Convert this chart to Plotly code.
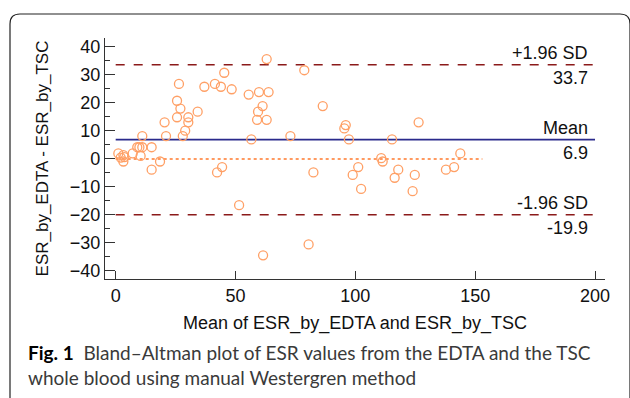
import plotly.graph_objects as go

# Data: mean of the two methods (x) and difference EDTA - TSC (y)
mean_vals = [63.0, 45.3, 26.4, 37.0, 41.4, 43.9, 48.4, 55.5, 59.8, 63.8,
             25.6, 27.0, 34.2, 61.3, 59.4, 25.6, 30.3, 30.3, 20.4, 59.0,
             63.0, 29.0, 28.0, 21.0, 11.1, 56.6, 9.0, 9.9, 11.1, 15.0,
             7.1, 1.1, 10.4, 3.6, 2.1, 3.2, 18.5, 15.0, 44.4, 42.3,
             51.5, 61.5, 78.7, 86.4, 96.0, 95.4, 126.4, 72.9, 97.3, 115.3,
             143.8, 110.8, 111.4, 101.2, 82.5, 98.9, 102.4, 117.9, 116.4, 124.8,
             123.9, 137.8, 141.2, 80.5, 3.2]
diff_vals = [35.7, 30.8, 26.8, 25.8, 26.8, 25.8, 24.9, 23.0, 23.9, 23.9,
             20.8, 18.0, 16.9, 18.9, 16.9, 14.9, 14.9, 13.1, 13.1, 14.0,
             14.0, 10.1, 8.2, 8.2, 8.2, 7.0, 4.2, 4.2, 4.2, 4.2,
             2.0, 2.0, 1.1, 0.7, 0.5, -0.9, -0.9, -3.8, -2.9, -4.8,
             -16.5, -34.4, 31.7, 18.9, 12.1, 10.9, 13.1, 8.2, 7.0, 7.0,
             2.0, 0.3, -0.9, -2.9, -4.8, -5.7, -10.7, -3.8, -6.7, -5.7,
             -11.5, -3.8, -2.9, -30.5, 1.4]

mean_diff = 6.9
upper_loa = 33.7
lower_loa = -19.9
zero_line_x = [0, 153]
limit_line_x = [0, 200]

x_ticks = [0, 50, 100, 150, 200]
y_ticks = [-40, -30, -20, -10, 0, 10, 20, 30, 40]

AX_FONT = "Liberation Sans, Arial, sans-serif"

fig = go.Figure()

# zero line (dotted orange)
fig.add_trace(go.Scatter(x=zero_line_x, y=[0, 0], mode="lines",
                         line=dict(color="#FF7A2E", width=1.4, dash="dot"),
                         hoverinfo="skip", showlegend=False))
# limits of agreement
fig.add_trace(go.Scatter(x=limit_line_x, y=[upper_loa, upper_loa], mode="lines",
                         line=dict(color="#8B1A1A", width=1.5, dash="dash"),
                         showlegend=False))
fig.add_trace(go.Scatter(x=limit_line_x, y=[lower_loa, lower_loa], mode="lines",
                         line=dict(color="#8B1A1A", width=1.5, dash="dash"),
                         showlegend=False))
fig.add_trace(go.Scatter(x=limit_line_x, y=[mean_diff, mean_diff], mode="lines",
                         line=dict(color="#2A2A8C", width=1.6),
                         showlegend=False))
# points
fig.add_trace(go.Scatter(x=mean_vals, y=diff_vals, mode="markers",
                         marker=dict(symbol="circle-open", size=9,
                                     color="#FFA066", line=dict(width=1.3)),
                         showlegend=False))

label_font = dict(family=AX_FONT, size=18, color="#111111")
for yv, above, below in [(upper_loa, "+1.96 SD", f"{upper_loa:.1f}"),
                         (mean_diff, "Mean", f"{mean_diff:.1f}"),
                         (lower_loa, "-1.96 SD", f"{lower_loa:.1f}")]:
    fig.add_annotation(x=198, y=yv, text=above, showarrow=False,
                       xanchor="right", yanchor="bottom", yshift=0,
                       font=label_font)
    fig.add_annotation(x=198, y=yv, text=below, showarrow=False,
                       xanchor="right", yanchor="top", yshift=-1,
                       font=label_font)

# caption
cap_font = dict(family="Lato, Open Sans, sans-serif", size=19, color="#3a3a3a")
fig.add_annotation(xref="paper", yref="paper", x=(26 - 105) / 500, y=(279 - 352) / 241,
                   xanchor="left", yanchor="middle", showarrow=False, align="left",
                   text="<b><span style='color:#000'>Fig. 1</span></b>  Bland–Altman plot of ESR values from the EDTA and the TSC",
                   font=cap_font)
fig.add_annotation(xref="paper", yref="paper", x=(26 - 105) / 500, y=(279 - 378) / 241,
                   xanchor="left", yanchor="middle", showarrow=False, align="left",
                   text="whole blood using manual Westergren method",
                   font=cap_font)

# rounded frame (paper coords converted from pixel positions)
def px2x(px):
    return (px - 105) / 500

def py2y(py):
    return (279 - py) / 241

path = (f"M {px2x(10)},{py2y(400)} L {px2x(10)},{py2y(24)} "
        f"Q {px2x(10)},{py2y(14)} {px2x(20)},{py2y(14)} "
        f"L {px2x(620)},{py2y(14)} Q {px2x(630)},{py2y(14)} {px2x(630)},{py2y(24)} "
        f"L {px2x(630)},{py2y(400)}")
fig.add_shape(type="path", xref="paper", yref="paper", path=path,
              line=dict(color="#222222", width=1.2), fillcolor="rgba(0,0,0,0)")

fig.update_layout(
    width=630, height=398,
    margin=dict(l=105, r=25, t=38, b=119),
    paper_bgcolor="white", plot_bgcolor="white",
    font=dict(family=AX_FONT, size=18, color="#111111"),
    xaxis=dict(range=[-4.46, 204.17], tickvals=x_ticks, ticks="inside", ticklen=8,
               tickcolor="#333", tickwidth=1.2, automargin=False,
               showline=True, linecolor="#333", linewidth=1.2, showgrid=False,
               zeroline=False,
               title=dict(text="Mean of ESR_by_EDTA and ESR_by_TSC",
                          font=dict(size=18), standoff=11),
               tickfont=dict(size=18)),
    yaxis=dict(range=[-42.86, 43.21], tickvals=y_ticks, ticks="inside", ticklen=10,
               tickcolor="#333", tickwidth=1.2, automargin=False,
               minor=dict(ticks="inside", ticklen=5, dtick=5, tick0=0,
                          tickcolor="#333", tickwidth=1.2, showgrid=False),
               showline=True, linecolor="#333", linewidth=1.2, showgrid=False,
               zeroline=False,
               title=dict(text="ESR_by_EDTA - ESR_by_TSC", font=dict(size=17),
                          standoff=16),
               tickfont=dict(size=18)),
)

fig.write_html("out.html", config={"displayModeBar": False},
               post_script="document.body.style.margin='0';")
